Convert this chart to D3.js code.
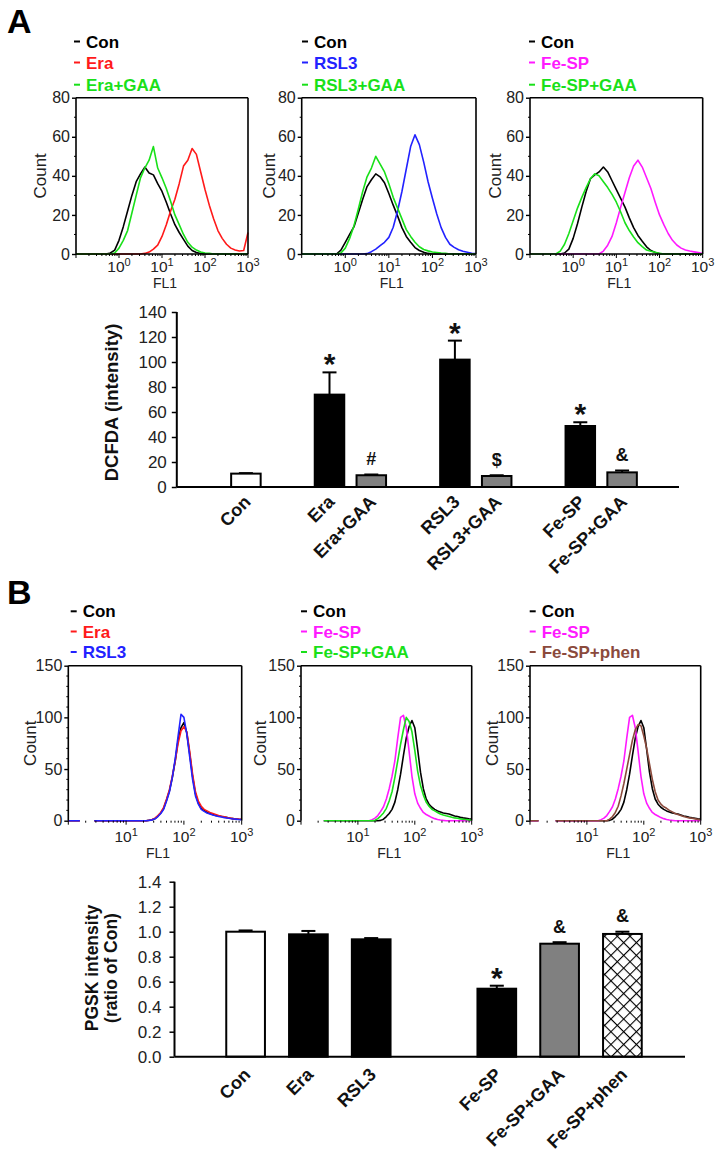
<!DOCTYPE html>
<html><head><meta charset="utf-8">
<script src="https://cdn.jsdelivr.net/npm/d3@7"></script>
<style>body{margin:0;background:#fff} text{font-family:Arial,"Liberation Sans",sans-serif}</style>
</head><body><svg id="c" width="724" height="1165"></svg>
<script>
// ---------------- DATA ----------------
// Panel A histograms: FL1 (log10) channel positions and counts
const flA = [-1.0,-0.9,-0.8,-0.7,-0.6,-0.5,-0.4,-0.3,-0.2,-0.1,0.0,0.1,0.2,0.3,0.4,0.5,0.6,0.7,0.8,0.9,1.0,1.1,1.2,1.3,1.4,1.5,1.6,1.7,1.8,1.9,2.0,2.1,2.2,2.3,2.4,2.5,2.6,2.7,2.8,2.9,3.0];
const a1Con = [0,0,0,0,0,0,0,0,0.5,2,7,14,22,30,37,41,44.5,41.5,40.5,36,32,26.5,20.5,15,11,7.5,4,1.8,0.8,0.3,0,0,0,0,0,0,0,0,0,0,0];
const a1Era = [0,0,0,0,0,0,0,0,0,0,0,0,0,0,0,0,0.3,1,2.5,4.5,9,15,22,28,36,45,48,54,51,42,33,25,18,12,8,5,3,2,1.5,1.8,11];
const a1EraGAA = [0,0,0,0,0,0,0,0,0,0.5,3,7,12,21,30,39,44,48,55,44,39,33.5,27,20,15,10,6,3.5,2,1,0.5,0.3,0,0,0,0,0,0,0,0,0];
const a2Con = [0,0,0,0,0,0,0,0,0,2,6,10,14,21,28,34.5,38,41,39.5,36.5,31,25,19.5,13.5,9,6,3.3,1.8,0.9,0.3,0,0,0,0,0,0,0,0,0,0,0];
const a2RSL3 = [0,0,0,0,0,0,0,0,0,0,0,0,0,0,0,0.2,1.2,2.5,4.3,6,8.5,13.7,22,32,43.5,55,61,56,47,37,28.5,20.5,13.5,8.5,5,3.4,2.2,1.4,0.9,0.4,0.2];
const a2RSL3GAA = [0,0,0,0,0,0,0,0,0,0.5,3,8,14.5,23,32,39.5,44,50,46,42,36,29,23.5,18,12.5,9,6,3.7,2.3,1.6,1,0.8,0.5,0.3,0,0,0,0,0,0,0];
const a3Con = [0,0,0,0,0,0,0,0,0.5,2.5,8,15.5,24,32,38.5,40.5,42,44.5,42,37.5,33,28.5,24,18.5,13.5,9.5,6.5,3.7,1.8,0.8,0.2,0,0,0,0,0,0,0,0,0,0];
const a3FeSP = [0,0,0,0,0,0,0,0,0,0,0,0,0,0,0,0,0,1.5,4.5,9,16,24,31.5,39,45,48,44.5,39,33.5,26.5,20,15,10.5,7,4.6,3,2,1.5,1.1,0.7,0.3];
const a3FeSPGAA = [0,0,0,0,0,0,0,1.5,5,10.5,17,23.5,29,34,38.5,41,40,37,34,30.5,26.5,21.5,16,12,8.7,5.8,3.8,2,1.4,0.9,0.3,0,0,0,0,0,0,0,0,0,0];

// Panel B histograms
const flB = [0.00,0.05,0.10,0.15,0.20,0.25,0.30,0.35,0.40,0.45,0.50,0.55,0.60,0.65,0.70,0.75,0.80,0.85,0.90,0.95,1.00,1.05,1.10,1.15,1.20,1.25,1.30,1.35,1.40,1.45,1.50,1.55,1.60,1.65,1.70,1.75,1.80,1.85,1.90,1.95,2.00,2.05,2.10,2.15,2.20,2.25,2.30,2.35,2.40,2.45,2.50,2.55,2.60,2.65,2.70,2.75,2.80,2.85,2.90,2.95,3.00];
const b1Con = [0,0,0,0,0,0,0,0,0,0,0,0,0,0,0,0,0,0,0,0,0,0,0,0,0,0,0,0,0.5,1,2,4.5,7.5,12,20,29,42,58,78,90,95,85,65,43,26,17,12,10,8,7,6,5,4.5,4,3.5,3,2.3,2,1.7,1.4,1.2];
const b1Era = [0,0,0,0,0,0,0,0,0,0,0,0,0,0,0,0,0,0,0,0,0,0,0,0,0,0,0,0,0.5,1.2,2.5,5,8,13,21,30,43,58,75,87,91,86,67,45,28,19,14,11,9.5,8,7,6,5,4.3,3.7,3,2.5,2,1.7,1.5,1.4];
const b1RSL3 = [0,0,0,0,0,0,0,0,0,0,0,0,0,0,0,0,0,0,0,0,0,0,0,0,0,0,0,0,0.3,0.8,1.8,4,7,11,19,28,42,60,82,103,100,84,62,40,24,16,11,9,7.5,6.5,5.5,4.7,4,3.5,3,2.6,2.2,1.8,1.5,1.2,1];
const b2Con = [0,0,0,0,0,0,0,0,0,0,0,0,0,0,0,0,0,0,0,0,0,0,0,0,0,0,0,0,0.3,1.5,4,7,11,18,30,45,63,80,91,97,90,69,47,31,21,16,13,11,9.5,8.5,7.5,7,6.5,5.5,4.5,4,3.2,2.7,2.3,1.8,1.5];
const b2FeSP = [0,0,0,0,0,0,0,0,0,0,0,0,0,0,0,0,0,0,0,0,0,0,0,0,0,1,2.5,5,9,13.5,21,31,43,58,80,100,102,90,67,43,26,17,12,8,6,4.5,3,2,1.2,0.7,0.3,0,0,0,0,0,0,0,0,0,0];
const b2FeSPGAA = [0,0,0,0,0,0,0,0,0,0,0,0,0,0,0,0,0,0,0,0,0,0,0,0,0,0,0.5,2,4.5,7.5,12,19,28,42,58,74,88,100,96,86,68,48,34,25,18,14,11,9.5,8,6.5,5.5,4.7,4,3.3,2.7,2.3,1.8,1.4,1.1,0.8,0.5];
const b3FeSPphen = [0,0,0,0,0,0,0,0,0,0,0,0,0,0,0,0,0,0,0,0,0,0,0,0,0,0,0,0,1.5,4,8,14,24,36,50,64,78,88,93,92,82,70,55,40,28,20,16,13.5,12,10,8.5,7,6,5,4,3.3,2.7,2.3,1.8,1.3,1];

// Bar chart A (DCFDA)
const catsA = ["Con","Era","Era+GAA","RSL3","RSL3+GAA","Fe-SP","Fe-SP+GAA"];
const valsA = [10.7,73.9,9.4,101.9,8.8,48.8,11.7];
const errsA = [0.4,17.8,0.6,15.2,0.6,3.0,1.5];
const marksA = ["","*","#","*","$","*","&"];
const ticksA = [0,20,40,60,80,100,120,140];

// Bar chart B (PGSK)
const catsB = ["Con","Era","RSL3","Fe-SP","Fe-SP+GAA","Fe-SP+phen"];
const valsB = [1.0,0.979,0.939,0.544,0.904,0.982];
const errsB = [0.01,0.027,0.01,0.024,0.012,0.018];
const marksB = ["","","","*","&","&"];
const ticksB = [0,0.2,0.4,0.6,0.8,1.0,1.2,1.4];

// ---------------- STYLE ----------------
const COL = {Con:"#000000", Era:"#ff1a1a", RSL3:"#2222ff", FeSP:"#ff1aff", GAA:"#19e019", phen:"#8b4a3c"};
const FONT = "Arial, 'Liberation Sans', sans-serif";
const svg = d3.select("#c");
svg.append("rect").attr("width",724).attr("height",1165).attr("fill","#fff");

const defs = svg.append("defs");
const pat = defs.append("pattern").attr("id","hatch").attr("patternUnits","userSpaceOnUse")
  .attr("width",9).attr("height",9).attr("patternTransform","rotate(45)");
pat.append("rect").attr("width",9).attr("height",9).attr("fill","#fff");
pat.append("line").attr("x1",0).attr("y1",0).attr("x2",0).attr("y2",9).attr("stroke","#000").attr("stroke-width",2.2);
pat.append("line").attr("x1",0).attr("y1",0).attr("x2",9).attr("y2",0).attr("stroke","#000").attr("stroke-width",2.2);

// ---------------- HISTOGRAMS ----------------
function drawHist(p){
  const g = svg.append("g");
  const x = d3.scaleLog().domain([Math.pow(10,p.lmin),Math.pow(10,p.lmax)]).range([p.x0,p.x1]);
  const y = d3.scaleLinear().domain([0,p.ymax]).range([p.y1,p.y0]);
  p.series.forEach(s=>{
    const pts = p.grid.map((l,i)=>[l,s.values[i]]);
    const line = d3.line()
      .defined(d=>!(p.gap && d[0]>p.gap[0] && d[0]<p.gap[1]))
      .x(d=>x(Math.pow(10,d[0]))).y(d=>y(d[1]));
    g.append("path").attr("d",line(pts)).attr("fill","none")
      .attr("stroke",s.color).attr("stroke-width",1.6).attr("stroke-linejoin","round");
  });
  // frame
  const fr = g.append("g").attr("stroke","#000").attr("stroke-width",1.6).attr("fill","none");
  fr.append("line").attr("x1",p.x0).attr("x2",p.x1).attr("y1",p.y0).attr("y2",p.y0);
  fr.append("line").attr("x1",p.x1).attr("x2",p.x1).attr("y1",p.y0).attr("y2",p.y1);
  if(p.bottom) fr.append("line").attr("x1",p.x0).attr("x2",p.x1).attr("y1",p.y1).attr("y2",p.y1);
  // y axis
  const ya = g.append("g").attr("transform",`translate(${p.x0},0)`)
    .call(d3.axisLeft(y).tickValues(p.yticks).tickSize(4).tickPadding(2).tickFormat(d3.format("d")));
  ya.select(".domain").attr("stroke-width",1.6).attr("d",`M0,${p.y1}V${p.y0}`);
  ya.selectAll(".tick line").attr("stroke-width",1.4);
  ya.selectAll("text").attr("font-size",16).attr("fill","#222").style("font-family",FONT);
  p.yminor.forEach(v=>{
    g.append("line").attr("x1",p.x0-2).attr("x2",p.x0).attr("y1",y(v)).attr("y2",y(v)).attr("stroke","#000").attr("stroke-width",1);
  });
  // x ticks
  for(let k=Math.ceil(p.lmin);k<=p.lmax;k++){
    for(let m=1;m<10;m++){
      const v = m*Math.pow(10,k);
      if(v>Math.pow(10,p.lmax)+1e-9) break;
      if(v<Math.pow(10,p.lmin)-1e-9) continue;
      g.append("line").attr("x1",x(v)).attr("x2",x(v)).attr("y1",p.y1).attr("y2",p.y1+(m===1?4:2))
        .attr("stroke","#000").attr("stroke-width",1);
    }
  }
  p.xlabels.forEach(k=>{
    const t = g.append("text").attr("x",x(Math.pow(10,k))).attr("y",p.y1+p.xlabDy)
      .attr("text-anchor","middle").attr("font-size",15.5).attr("fill","#222");
    t.append("tspan").text("10");
    t.append("tspan").attr("dy",-6).attr("font-size",11).text(k);
  });
  g.append("text").attr("x",(p.x0+p.x1)/2+3).attr("y",p.flY).attr("text-anchor","middle")
    .attr("font-size",14).attr("fill","#222").text("FL1");
  g.append("text").attr("transform",`translate(${p.countX},${(p.y0+p.y1)/2}) rotate(-90)`)
    .attr("text-anchor","middle").attr("font-size",17).attr("fill","#222").text("Count");
  // legend
  p.series.forEach((s,i)=>{
    const by = p.legY[i];
    g.append("line").attr("x1",p.legX-12).attr("x2",p.legX-6).attr("y1",by-6).attr("y2",by-6)
      .attr("stroke",s.color).attr("stroke-width",2);
    g.append("text").attr("x",p.legX).attr("y",by).attr("font-size",17).attr("font-weight","bold")
      .attr("fill",s.color).text(s.name);
  });
}

const commonA = {grid:flA,lmin:-1,lmax:3,ymax:80,yticks:[0,20,40,60,80],yminor:[10,30,50,70],
  y0:97.7,y1:254,bottom:true,xlabels:[0,1,2,3],xlabDy:17.5,flY:288,legY:[47.5,68.5,90.7]};
drawHist(Object.assign({},commonA,{x0:76,x1:248,countX:46,legX:86,
  series:[{name:"Con",color:COL.Con,values:a1Con},{name:"Era",color:COL.Era,values:a1Era},{name:"Era+GAA",color:COL.GAA,values:a1EraGAA}]}));
drawHist(Object.assign({},commonA,{x0:301.7,x1:476,countX:274.5,legX:314,
  series:[{name:"Con",color:COL.Con,values:a2Con},{name:"RSL3",color:COL.RSL3,values:a2RSL3},{name:"RSL3+GAA",color:COL.GAA,values:a2RSL3GAA}]}));
drawHist(Object.assign({},commonA,{x0:530,x1:702.7,countX:501,legX:541,
  series:[{name:"Con",color:COL.Con,values:a3Con},{name:"Fe-SP",color:COL.FeSP,values:a3FeSP},{name:"Fe-SP+GAA",color:COL.GAA,values:a3FeSPGAA}]}));

const commonB = {grid:flB,lmin:0,lmax:3,ymax:150,yticks:[0,50,100,150],yminor:[10,20,30,40,60,70,80,90,110,120,130,140],
  y0:665.7,y1:820.7,bottom:false,xlabels:[1,2,3],xlabDy:21,flY:858,legY:[617.3,637.5,658]};
drawHist(Object.assign({},commonB,{x0:68.3,x1:241.7,countX:36,legX:82.7,gap:[0.22,0.43],
  series:[{name:"Con",color:COL.Con,values:b1Con},{name:"Era",color:COL.Era,values:b1Era},{name:"RSL3",color:COL.RSL3,values:b1RSL3}]}));
drawHist(Object.assign({},commonB,{x0:301,x1:471.7,countX:266,legX:313,gap:[-1,0.37],
  series:[{name:"Con",color:COL.Con,values:b2Con},{name:"Fe-SP",color:COL.FeSP,values:b2FeSP},{name:"Fe-SP+GAA",color:COL.GAA,values:b2FeSPGAA}]}));
drawHist(Object.assign({},commonB,{x0:530,x1:700.7,countX:497.7,legX:541.7,gap:[0.17,0.42],
  series:[{name:"Con",color:COL.Con,values:b2Con},{name:"Fe-SP",color:COL.FeSP,values:b2FeSP},{name:"Fe-SP+phen",color:COL.phen,values:b3FeSPphen}]}));

// ---------------- BAR CHARTS ----------------
function fillFor(c){
  if(c==="Con") return "#fff";
  if(c.indexOf("+GAA")>=0) return "#808080";
  if(c.indexOf("+phen")>=0) return "url(#hatch)";
  return "#000";
}
function drawBars(c){
  const g = svg.append("g");
  const x = d3.scaleBand().domain(c.slots).range(c.range).paddingInner(c.pad).paddingOuter(c.pad/2);
  const y = d3.scaleLinear().domain([0,c.ymax]).range([c.y0,c.y1]);
  const bw = x.bandwidth();
  c.cats.forEach((cat,i)=>{
    const cx = x(cat)+bw/2, v=c.vals[i], e=c.errs[i];
    g.append("line").attr("x1",cx).attr("x2",cx).attr("y1",y(v)).attr("y2",y(v+e)).attr("stroke","#000").attr("stroke-width",2);
    g.append("line").attr("x1",cx-c.cap/2).attr("x2",cx+c.cap/2).attr("y1",y(v+e)).attr("y2",y(v+e)).attr("stroke","#000").attr("stroke-width",2);
    g.append("rect").attr("x",x(cat)).attr("y",y(v)).attr("width",bw).attr("height",y(0)-y(v))
      .attr("fill",fillFor(cat)).attr("stroke","#000").attr("stroke-width",2);
    const m = c.marks[i];
    if(m){
      const top = y(v+e);
      g.append("text").attr("x",cx).attr("y", m==="*" ? top+2 : top-9.5).attr("text-anchor","middle")
        .attr("font-weight","bold").attr("font-size", m==="*"?30:18).attr("fill","#111").text(m);
    }
    g.append("text").attr("transform",`translate(${cx+6},${c.y0+c.labDy}) rotate(-45)`)
      .attr("text-anchor","end").attr("font-weight","bold").attr("font-size",18).attr("fill","#111").text(cat);
  });
  g.append("line").attr("x1",c.axisX).attr("x2",c.axisEnd).attr("y1",c.y0).attr("y2",c.y0).attr("stroke","#000").attr("stroke-width",2);
  const ya = g.append("g").attr("transform",`translate(${c.axisX},0)`)
    .call(d3.axisLeft(y).tickValues(c.ticks).tickSize(5).tickPadding(c.tickPad).tickFormat(c.fmt));
  ya.select(".domain").attr("stroke-width",2).attr("d",`M0,${c.y0}V${c.y1}`);
  ya.selectAll(".tick line").attr("stroke-width",1.5);
  ya.selectAll("text").attr("font-size",17).attr("fill","#222").style("font-family",FONT);
  c.title.forEach((t,i)=>{
    g.append("text").attr("transform",`translate(${c.titleX[i]},${c.titleY}) rotate(-90)`)
      .attr("text-anchor","middle").attr("font-weight","bold").attr("font-size",c.titleSize).attr("fill","#111").text(t);
  });
}

drawBars({cats:catsA,vals:valsA,errs:errsA,marks:marksA,ticks:ticksA,ymax:140,
  slots:["Con","g1","Era","Era+GAA","g2","RSL3","RSL3+GAA","g3","Fe-SP","Fe-SP+GAA"],
  range:[225,643],pad:0.294,y0:487,y1:312,axisX:176.8,axisEnd:679,cap:14,labDy:16,tickPad:5,
  fmt:d3.format("d"),title:["DCFDA (intensity)"],titleX:[118],titleY:402.5,titleSize:18.5});
drawBars({cats:catsB,vals:valsB,errs:errsB,marks:marksB,ticks:ticksB,ymax:1.4,
  slots:["Con","Era","RSL3","g1","Fe-SP","Fe-SP+GAA","Fe-SP+phen"],
  range:[214.2,653.8],pad:0.384,y0:1056.7,y1:881.7,axisX:174.5,axisEnd:685,cap:14,labDy:19,tickPad:8,
  fmt:d3.format(".1f"),title:["PGSK intensity","(ratio of Con)"],titleX:[98,117],titleY:968,titleSize:17.5});

// panel letters
svg.append("text").attr("x",7).attr("y",33).attr("font-size",34).attr("font-weight","bold").text("A");
svg.append("text").attr("x",7).attr("y",604).attr("font-size",34).attr("font-weight","bold").text("B");
</script></body></html>
